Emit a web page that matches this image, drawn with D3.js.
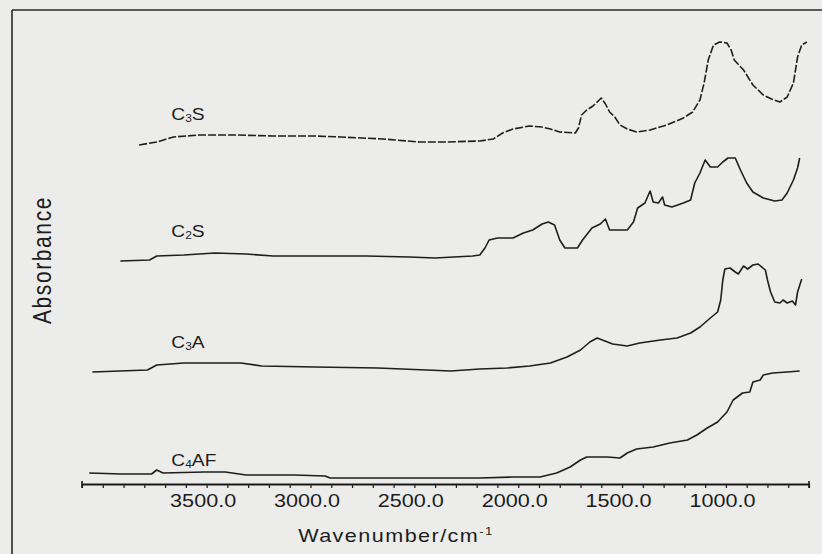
<!DOCTYPE html>
<html>
<head>
<meta charset="utf-8">
<script src="https://cdn.jsdelivr.net/npm/d3@7/dist/d3.min.js"></script>
<style>
  html, body { margin: 0; padding: 0; background: #ececea; }
  svg { display: block; }
  text { font-family: "Liberation Sans", Arial, sans-serif; fill: #1c1c1c; }
</style>
</head>
<body>
<svg id="chart" width="822" height="554"></svg>
<script>
// FTIR spectra of the four clinker phases (stacked, arbitrary absorbance offsets)

const c3sWave = [3825, 3740, 3660, 3535, 3360, 3180, 2980, 2855, 2650, 2475, 2345, 2185, 2120, 2075, 2025, 1945, 1885, 1845, 1800, 1725, 1710, 1695, 1670, 1640, 1600, 1580, 1560, 1535, 1510, 1475, 1430, 1365, 1285, 1205, 1160, 1125, 1105, 1085, 1060, 1030, 995, 975, 960, 915, 870, 820, 780, 740, 705, 675, 655, 635, 610];
const c3sAbs  = [3.39, 3.42, 3.47, 3.49, 3.49, 3.48, 3.48, 3.47, 3.45, 3.42, 3.42, 3.43, 3.45, 3.51, 3.55, 3.58, 3.57, 3.55, 3.52, 3.51, 3.56, 3.69, 3.74, 3.78, 3.86, 3.80, 3.72, 3.67, 3.59, 3.55, 3.52, 3.54, 3.59, 3.66, 3.72, 3.84, 4.01, 4.24, 4.39, 4.42, 4.41, 4.34, 4.24, 4.14, 3.99, 3.89, 3.85, 3.82, 3.87, 4.01, 4.27, 4.39, 4.42];

const c2sWave = [3915, 3775, 3740, 3610, 3460, 3310, 3180, 3080, 2730, 2525, 2400, 2220, 2185, 2160, 2140, 2100, 2025, 1975, 1930, 1885, 1855, 1825, 1800, 1775, 1715, 1690, 1645, 1605, 1580, 1560, 1525, 1475, 1445, 1425, 1390, 1365, 1350, 1325, 1305, 1295, 1260, 1205, 1170, 1150, 1125, 1100, 1075, 1040, 1015, 990, 955, 930, 900, 870, 820, 765, 730, 705, 675, 655, 645];
const c2sAbs  = [2.23, 2.24, 2.28, 2.29, 2.31, 2.30, 2.28, 2.28, 2.28, 2.27, 2.26, 2.28, 2.29, 2.36, 2.44, 2.46, 2.46, 2.51, 2.54, 2.60, 2.62, 2.59, 2.44, 2.36, 2.36, 2.44, 2.56, 2.60, 2.65, 2.54, 2.54, 2.54, 2.62, 2.76, 2.81, 2.93, 2.82, 2.81, 2.87, 2.79, 2.77, 2.81, 2.84, 3.01, 3.11, 3.24, 3.17, 3.17, 3.22, 3.26, 3.26, 3.14, 3.01, 2.92, 2.86, 2.83, 2.84, 2.91, 3.04, 3.16, 3.26];

const c3aWave = [4050, 3785, 3740, 3610, 3335, 3235, 2980, 2675, 2325, 2185, 2055, 1945, 1845, 1765, 1700, 1655, 1620, 1595, 1545, 1475, 1415, 1315, 1235, 1170, 1125, 1075, 1040, 1025, 1015, 1005, 980, 955, 940, 915, 895, 870, 845, 810, 800, 785, 765, 740, 725, 705, 680, 665, 655, 635];
const c3aAbs  = [1.12, 1.14, 1.19, 1.21, 1.21, 1.18, 1.17, 1.16, 1.13, 1.15, 1.16, 1.18, 1.21, 1.27, 1.34, 1.42, 1.46, 1.44, 1.40, 1.38, 1.41, 1.44, 1.46, 1.51, 1.57, 1.66, 1.72, 1.84, 2.04, 2.15, 2.16, 2.12, 2.10, 2.18, 2.15, 2.19, 2.20, 2.14, 2.04, 1.92, 1.82, 1.81, 1.84, 1.81, 1.83, 1.79, 1.92, 2.05];

const c4afWave = [4065, 3910, 3765, 3740, 3710, 3510, 3410, 3310, 3080, 2930, 2905, 2475, 2185, 2025, 1895, 1815, 1750, 1700, 1670, 1570, 1510, 1475, 1430, 1350, 1270, 1185, 1140, 1090, 1040, 995, 965, 920, 885, 870, 835, 820, 775, 705, 645];
const c4afAbs  = [0.11, 0.10, 0.10, 0.14, 0.11, 0.12, 0.12, 0.09, 0.09, 0.08, 0.06, 0.06, 0.06, 0.07, 0.07, 0.11, 0.17, 0.24, 0.27, 0.27, 0.26, 0.31, 0.35, 0.37, 0.41, 0.44, 0.49, 0.56, 0.62, 0.72, 0.84, 0.91, 0.92, 1.02, 1.04, 1.09, 1.11, 1.12, 1.13];

// phase labels: main letter, subscript digit, trailing letters
const phaseNames  = [["C", "3", "S"], ["C", "2", "S"], ["C", "3", "A"], ["C", "4", "AF"]];
const labelWave   = [3670, 3670, 3670, 3670];
const labelAbs    = [3.64, 2.47, 1.36, 0.18];

const majorTicks  = [3500, 3000, 2500, 2000, 1500, 1000];
const minorTicks  = d3.range(4100, 599, -100);
const xTitleText  = "Wavenumber/cm";
const xTitleSup   = "-1";
const yTitleText  = "Absorbance";

const series = [
  { wave: c3sWave,  abs: c3sAbs,  dash: "8,2" },
  { wave: c2sWave,  abs: c2sAbs,  dash: null },
  { wave: c3aWave,  abs: c3aAbs,  dash: null },
  { wave: c4afWave, abs: c4afAbs, dash: null }
];

const svg = d3.select("#chart");
const W = 822, H = 554;

const x = d3.scaleLinear().domain([4100, 600]).range([82, 809]);
const y = d3.scaleLinear().domain([0, 4.74]).range([484, 10]);

// outer frame (top and left edges)
svg.append("line").attr("x1", 12).attr("y1", 10).attr("x2", W).attr("y2", 10)
  .attr("stroke", "#2a2a2a").attr("stroke-width", 1.6);
svg.append("line").attr("x1", 12).attr("y1", 10).attr("x2", 12).attr("y2", H)
  .attr("stroke", "#2a2a2a").attr("stroke-width", 1.6);

// spectra
const line = d3.line().x(d => x(d[0])).y(d => y(d[1])).curve(d3.curveLinear);
series.forEach(s => {
  const pts = s.wave.map((w, i) => [w, s.abs[i]]);
  svg.append("path")
    .attr("d", line(pts))
    .attr("fill", "none")
    .attr("stroke", "#1e1e1e")
    .attr("stroke-width", 1.6)
    .attr("stroke-linejoin", "round")
    .attr("stroke-dasharray", s.dash);
});

// phase labels with subscripts
phaseNames.forEach((p, i) => {
  const g = svg.append("g").attr("transform", `translate(${x(labelWave[i])},${y(labelAbs[i])}) scale(1.2,1)`);
  const t = g.append("text").attr("font-size", 16);
  t.append("tspan").text(p[0]);
  t.append("tspan").attr("font-size", 10).attr("dy", 2).text(p[1]);
  t.append("tspan").attr("dy", -2).text(p[2]);
});

// x axis: minor ticks every 100 cm-1
const axisY = y(0);
const minorAxis = d3.axisBottom(x).tickValues(minorTicks).tickSize(4).tickSizeOuter(0).tickFormat("");
const gMinor = svg.append("g").attr("transform", `translate(0,${axisY})`).call(minorAxis);
gMinor.select(".domain").attr("stroke", "#1a1a1a").attr("stroke-width", 2.2);
gMinor.selectAll(".tick line").attr("stroke", "#1a1a1a").attr("stroke-width", 1.2);

// end caps of the axis line
[4100, 600].forEach(v => {
  svg.append("line").attr("x1", x(v)).attr("x2", x(v)).attr("y1", axisY - 3).attr("y2", axisY + 4)
    .attr("stroke", "#1a1a1a").attr("stroke-width", 1.6);
});

// major tick labels
const majorAxis = d3.axisBottom(x).tickValues(majorTicks).tickSize(0).tickPadding(10).tickFormat(d3.format(".1f"));
const gMajor = svg.append("g").attr("transform", `translate(0,${axisY})`).call(majorAxis);
gMajor.select(".domain").remove();
gMajor.selectAll(".tick text")
  .attr("font-size", 18)
  .attr("font-family", "Liberation Sans, Arial, sans-serif")
  .attr("fill", "#1c1c1c")
  .attr("transform", "translate(-4,0) scale(1.2,1)");

// axis titles
const xt = svg.append("g").attr("transform", "translate(396,542) scale(1.2,1)")
  .append("text").attr("text-anchor", "middle").attr("font-size", 18).attr("letter-spacing", 1.2);
xt.append("tspan").text(xTitleText);
xt.append("tspan").attr("font-size", 11).attr("dy", -7).text(xTitleSup);

svg.append("g").attr("transform", "translate(51,260) scale(1.2,1) rotate(-90)")
  .append("text").attr("text-anchor", "middle").attr("font-size", 21).attr("letter-spacing", 1.6)
  .text(yTitleText);
</script>
</body>
</html>
